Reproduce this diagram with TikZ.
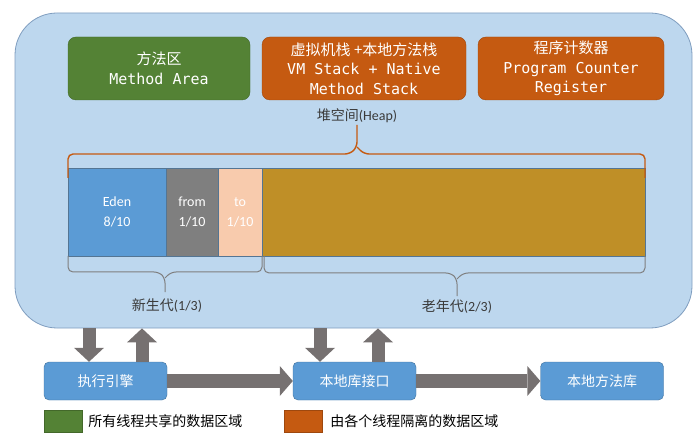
\documentclass[tikz,border=0pt]{standalone}
\usepackage{fontspec}
\setmainfont{Carlito}
\newfontfamily\cjk{Noto Sans CJK SC}
\newfontfamily\mono{DejaVu Sans Mono}
\usetikzlibrary{arrows.meta}
\definecolor{jvmFill}{HTML}{BDD7EE}
\definecolor{jvmLine}{HTML}{7F9DBF}
\definecolor{shared}{HTML}{548235}
\definecolor{isolated}{HTML}{C55A11}
\definecolor{edenColor}{HTML}{5B9BD5}
\definecolor{fromColor}{HTML}{7F7F7F}
\definecolor{toColor}{HTML}{F8CBAD}
\definecolor{oldColor}{HTML}{BF8F27}
\definecolor{unitLine}{HTML}{41719C}
\definecolor{arrowGray}{HTML}{767171}
\definecolor{labelGray}{HTML}{3A3A3A}

\begin{document}
\begin{tikzpicture}
[x=1pt,y=-1pt,%
  regionDecorate/.style={shape=rectangle,rounded corners=8pt,draw=#1!80!black,fill=#1,text=white,inner sep=0pt,minimum height=63pt,align=center,font=\mono\fontsize{15}{19.5}\selectfont},%
  barDecorate/.style={shape=rectangle,draw=unitLine!70!gray,line width=0.6pt,inner sep=0pt,minimum height=88pt,align=center,text=white,font=\fontsize{14}{20}\selectfont},%
  heapBrace/.style={-,draw=isolated,line width=1.4pt,rounded corners=5pt},%
  genBrace/.style={-,draw=fromColor,line width=1pt,rounded corners=5pt},%
  unitDecorate/.style={shape=rectangle,rounded corners=5pt,draw=unitLine,fill=edenColor,text=white,inner sep=0pt,minimum width=123pt,minimum height=38pt,font=\cjk\fontsize{14}{16}\selectfont},%
  flowArrow/.style={-{Triangle[length=13pt,width=30pt,line width=0pt]},draw=arrowGray,line width=14pt},%
  vertArrow/.style={-{Triangle[length=14pt,width=30pt,line width=0pt]},draw=arrowGray,line width=13pt},%
  legendBox/.style={shape=rectangle,draw=#1!80!black,fill=#1,inner sep=0pt,minimum width=38pt,minimum height=22pt},%
  labelText/.style={text=labelGray,font=\fontsize{14}{16}\selectfont}]
\useasboundingbox (0,0) rectangle (695,435);
%% runtime data area
\node[shape=rectangle,rounded corners=42pt,draw=jvmLine,line width=0.8pt,fill=jvmFill,minimum width=677pt,minimum height=315pt] (jvm) at (353.5,170.5) {};
%% method area, stacks and pc register
\foreach \nodename/\x/\w/\col/\txt in {
  methodArea/159/182/shared/{{\cjk 方法区}\\Method Area},
  vmStack/364/204/isolated/{{\cjk 虚拟机栈 +本地方法栈}\\VM Stack + Native\\Method Stack},
  pcRegister/571/186/isolated/{{\cjk 程序计数器}\\Program Counter\\Register}}
{
  \node[regionDecorate=\col,minimum width=\w] (\nodename) at (\x,68.5) {\txt};
}
%% heap
\node[labelText] (heapLabel) at (357,116) {{\cjk 堆空间}(Heap)};
\node[barDecorate,fill=edenColor,minimum width=98pt] (eden) at (117,212) {Eden\\8/10};
\node[barDecorate,fill=fromColor,minimum width=52pt] (from) at (192,212) {from\\1/10};
\node[barDecorate,fill=toColor,minimum width=44pt] (to) at (240,212) {to\\1/10};
\node[barDecorate,fill=oldColor,minimum width=383pt] (old) at (453.5,212) {};
\draw[heapBrace] (68,178) -- (68,154) -- (350,154) -- (357,147) -- (357,125);
\draw[heapBrace] (357,147) -- (364,154) -- (645,154) -- (645,178);
%% generations
\draw[genBrace] (68,256) -- (68,272) -- (159,272) -- (165,278) -- (165,292);
\draw[genBrace] (165,278) -- (171,272) -- (262,272) -- (262,256);
\draw[genBrace] (264,256) -- (264,273) -- (451,273) -- (457,279) -- (457,296);
\draw[genBrace] (457,279) -- (463,273) -- (645,273) -- (645,256);
\node[labelText] (youngLabel) at (167,306) {{\cjk 新生代}(1/3)};
\node[labelText] (oldLabel) at (457,307) {{\cjk 老年代}(2/3)};
%% engine and native interface
\foreach \nodename/\x/\txt in {engine/105.5/执行引擎, nativeIf/354.5/本地库接口, nativeLib/602/本地方法库}
{
  \node[unitDecorate] (\nodename) at (\x,381) {\txt};
}
\draw[flowArrow] (engine) -- (nativeIf);
\draw[flowArrow] (nativeIf) -- (nativeLib);
\coordinate (engineIn) at ([xshift=-16.5pt]engine.north);
\coordinate (engineOut) at ([xshift=36.5pt]engine.north);
\coordinate (nativeIn) at ([xshift=-34.5pt]nativeIf.north);
\coordinate (nativeOut) at ([xshift=23.5pt]nativeIf.north);
\draw[vertArrow] (engineIn |- jvm.south) -- (engineIn);
\draw[vertArrow] (engineOut) -- (engineOut |- jvm.south);
\draw[vertArrow] (nativeIn |- jvm.south) -- (nativeIn);
\draw[vertArrow] (nativeOut) -- (nativeOut |- jvm.south);
%% legend
\node[legendBox=shared] (sharedKey) at (63,421) {};
\node[labelText,text=black,anchor=west,inner sep=0pt] (sharedText) at ([xshift=6pt]sharedKey.east) {\cjk 所有线程共享的数据区域};
\node[legendBox=isolated] (isolatedKey) at (303,421) {};
\node[labelText,text=black,anchor=west,inner sep=0pt] (isolatedText) at ([xshift=8pt]isolatedKey.east) {\cjk 由各个线程隔离的数据区域};
\end{tikzpicture}
\end{document}
